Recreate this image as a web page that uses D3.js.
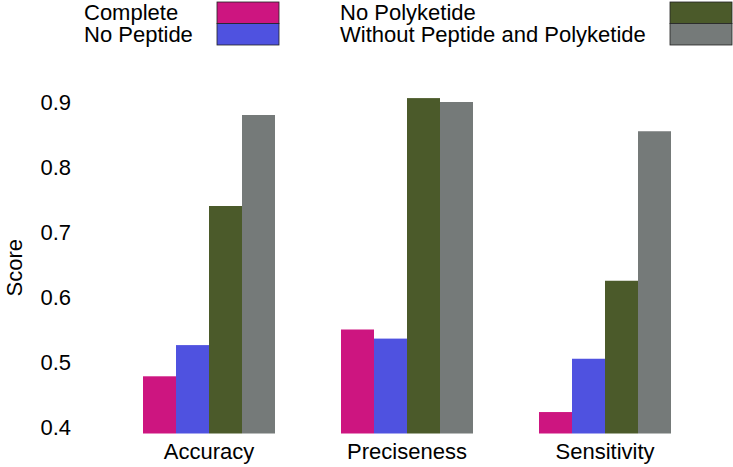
<!DOCTYPE html>
<html>
<head>
<meta charset="utf-8">
<script src="https://cdn.jsdelivr.net/npm/d3@7"></script>
<style>
  body { margin: 0; background: #fff; }
  svg text { font-family: "Liberation Sans", Arial, sans-serif; fill: #000; }
</style>
</head>
<body>
<svg id="chart"></svg>
<script>
const categories = ["Accuracy", "Preciseness", "Sensitivity"];
const seriesNames = ["Complete", "No Peptide", "No Polyketide", "Without Peptide and Polyketide"];
const complete = [0.478, 0.550, 0.423];
const noPeptide = [0.526, 0.536, 0.505];
const noPolyketide = [0.740, 0.906, 0.625];
const withoutBoth = [0.880, 0.900, 0.855];
const yTicks = [0.4, 0.5, 0.6, 0.7, 0.8, 0.9];
const baseValue = 0.39;

const colors = ["#cd1580", "#4f52e0", "#4b5a2a", "#757a79"];
const seriesValues = [complete, noPeptide, noPolyketide, withoutBoth];

const width = 733;
const height = 467;
const margin = { top: 102, right: 62, bottom: 40, left: 143 };
const fontSize = "22px";

const svg = d3.select("#chart").attr("width", width).attr("height", height);

const rows = categories.map((c, i) => {
  const row = { category: c };
  seriesNames.forEach((s, j) => { row[s] = seriesValues[j][i]; });
  return row;
});

const x0 = d3.scaleBand()
  .domain(categories)
  .range([margin.left, width - margin.right])
  .paddingInner(1 / 3)
  .paddingOuter(0);

const x1 = d3.scaleBand()
  .domain(seriesNames)
  .range([0, x0.bandwidth()]);

const y = d3.scaleLinear()
  .domain([0.4, 0.9])
  .range([427, margin.top]);

const color = d3.scaleOrdinal().domain(seriesNames).range(colors);

// bars
const groups = svg.append("g")
  .selectAll("g")
  .data(rows)
  .join("g")
  .attr("transform", d => `translate(${x0(d.category)},0)`);

groups.selectAll("rect")
  .data(d => seriesNames.map(s => ({ key: s, value: d[s] })))
  .join("rect")
  .attr("x", d => x1(d.key))
  .attr("y", d => y(d.value))
  .attr("width", x1.bandwidth())
  .attr("height", d => y(baseValue) - y(d.value))
  .attr("fill", d => color(d.key));

// y axis: labels only
const yAxis = svg.append("g")
  .attr("transform", `translate(71,0)`)
  .call(d3.axisLeft(y).tickValues(yTicks).tickFormat(d3.format(".1f")).tickSize(0).tickPadding(0));
yAxis.select(".domain").remove();
yAxis.selectAll("text").style("font-size", fontSize).attr("fill", "#000");

svg.append("text")
  .attr("transform", `translate(22,${y(0.645)}) rotate(-90)`)
  .attr("text-anchor", "middle")
  .style("font-size", fontSize)
  .text("Score");

// x axis: labels only
const xAxis = svg.append("g")
  .attr("transform", `translate(0,${y(baseValue)})`)
  .call(d3.axisBottom(x0).tickSize(0).tickPadding(10));
xAxis.select(".domain").remove();
xAxis.selectAll("text").style("font-size", fontSize).attr("fill", "#000");

// legend, two columns of two rows
const legendCols = [
  { textX: 84, boxX: 217, items: seriesNames.slice(0, 2) },
  { textX: 340, boxX: 670, items: seriesNames.slice(2, 4) }
];
const rowH = 21.5;
legendCols.forEach(col => {
  const g = svg.append("g");
  col.items.forEach((s, i) => {
    g.append("text")
      .attr("x", col.textX)
      .attr("y", 2 + rowH * i + rowH / 2)
      .attr("dy", "0.35em")
      .style("font-size", fontSize)
      .text(s);
    g.append("rect")
      .attr("x", col.boxX)
      .attr("y", 2 + rowH * i)
      .attr("width", 62)
      .attr("height", rowH)
      .attr("fill", color(s))
      .attr("stroke", "#222")
      .attr("stroke-width", 0.8);
  });
});
</script>
</body>
</html>
